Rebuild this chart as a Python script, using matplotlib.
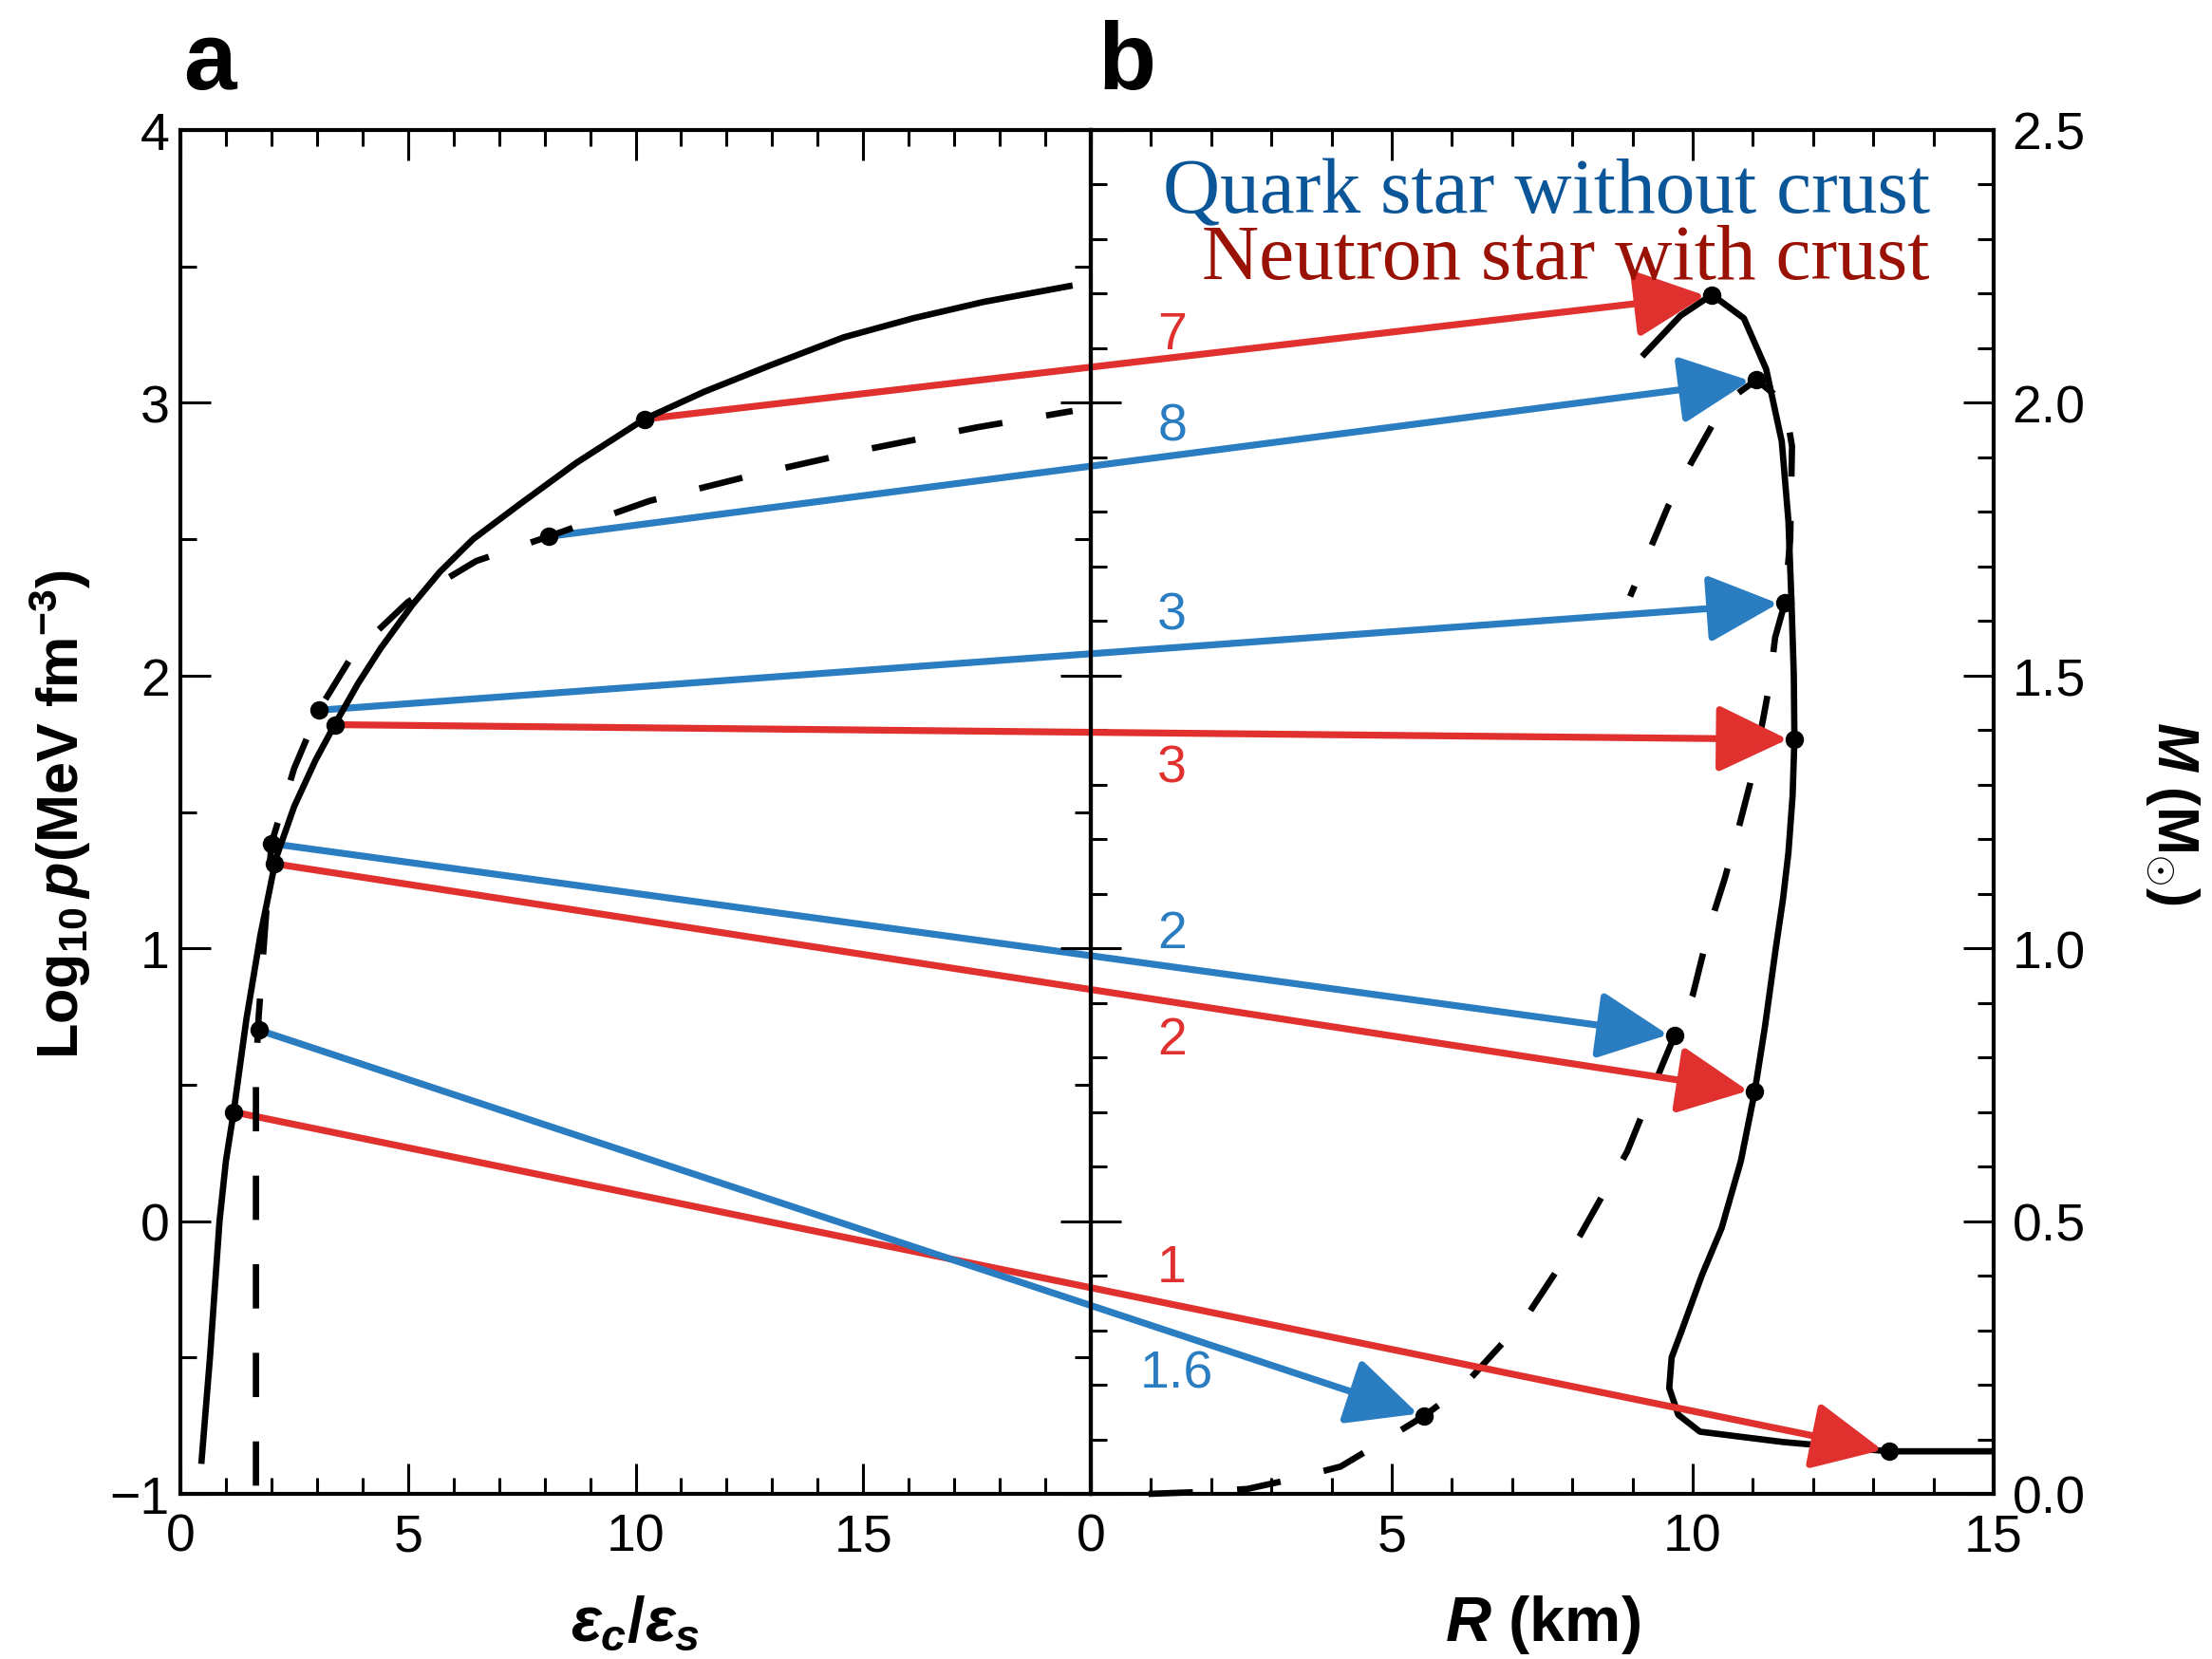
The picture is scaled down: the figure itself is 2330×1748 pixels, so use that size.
import numpy as np
import matplotlib
matplotlib.use('Agg')
import matplotlib.pyplot as plt
from matplotlib.patches import ConnectionPatch
from matplotlib.ticker import MultipleLocator
from matplotlib import font_manager

# narrow sans for ticks and labels, serif for the two captions
installed = {f.name for f in font_manager.fontManager.ttflist}
SANS = 'Liberation Sans Narrow' if 'Liberation Sans Narrow' in installed else 'Liberation Sans'
plt.rcParams['font.family'] = [SANS, 'DejaVu Sans']
plt.rcParams['mathtext.fontset'] = 'custom'
plt.rcParams['mathtext.rm'] = SANS + ':bold'
plt.rcParams['mathtext.it'] = SANS + ':italic:bold'
plt.rcParams['mathtext.bf'] = SANS + ':bold'

# ---- panel a: equations of state, log10 p vs eps_c/eps_s ----
eps_ns = np.array([0.46, 0.65, 0.86, 1.0, 1.17, 1.45, 1.76, 2.1, 2.5, 2.97, 3.39,
                   3.9, 4.4, 5.1, 5.7, 6.43, 7.47, 8.7, 10.19, 11.5, 13.0, 14.57,
                   16.1, 17.65, 19.6])
logp_ns = np.array([-0.89, -0.5, 0.0, 0.22, 0.40, 0.74, 1.05, 1.33, 1.52, 1.69, 1.82,
                    1.97, 2.10, 2.26, 2.38, 2.50, 2.63, 2.78, 2.94, 3.04, 3.14, 3.24,
                    3.31, 3.37, 3.43])
eps_qs = np.array([1.66, 1.66, 1.72, 1.85, 2.0, 2.5, 3.04, 3.8, 5.0, 6.5, 8.09,
                   10.3, 12.7, 15.1, 17.5, 19.6])
logp_qs = np.array([-0.97, 0.55, 0.75, 1.05, 1.384, 1.66, 1.873, 2.08, 2.27, 2.42,
                    2.51, 2.64, 2.74, 2.83, 2.91, 2.97])

# ---- panel b: mass-radius relations ----
r_ns = np.array([15.0, 13.26, 11.5, 10.12, 9.76, 9.61, 9.65, 9.82, 10.15, 10.48,
                 10.8, 11.03, 11.2, 11.38, 11.5, 11.59, 11.66, 11.69, 11.68, 11.64,
                 11.59, 11.48, 11.22, 10.85, 10.32, 9.8, 9.16])
m_ns = np.array([0.078, 0.078, 0.095, 0.114, 0.145, 0.194, 0.25, 0.30, 0.40, 0.487,
                 0.61, 0.737, 0.856, 1.0, 1.09, 1.175, 1.28, 1.383, 1.5, 1.64,
                 1.784, 1.929, 2.062, 2.155, 2.198, 2.16, 2.085])
r_qs = np.array([0.96, 1.7, 2.6, 3.3, 4.15, 4.8, 5.54, 6.17, 7.22, 8.13, 8.91, 9.51,
                 9.70, 10.0, 10.3, 10.53, 10.75, 10.95, 11.17, 11.27, 11.37, 11.53,
                 11.62, 11.65, 11.53, 11.06, 10.53, 10.33, 9.96, 9.59, 9.27, 8.96])
m_qs = np.array([0.0, 0.003, 0.009, 0.026, 0.05, 0.093, 0.143, 0.195, 0.322, 0.474,
                 0.627, 0.79, 0.84, 0.914, 1.047, 1.127, 1.215, 1.30, 1.42, 1.48,
                 1.57, 1.633, 1.75, 1.92, 2.0, 2.042, 2.0, 1.96, 1.887, 1.81,
                 1.726, 1.645])

# central pressure -> resulting star, neutron stars (red)
ns_labels = ['1', '2', '3', '7']
ns_eps0 = [1.17, 2.07, 3.39, 10.19]
ns_logp0 = [0.40, 1.31, 1.82, 2.94]
ns_r1 = [13.26, 11.03, 11.69, 10.32]
ns_m1 = [0.078, 0.737, 1.383, 2.198]
ns_label_m = [0.414, 0.832, 1.33, 2.125]

# quark stars (blue)
qs_labels = ['1.6', '2', '3', '8']
qs_eps0 = [1.73, 2.0, 3.04, 8.09]
qs_logp0 = [0.70, 1.384, 1.873, 2.51]
qs_r1 = [5.54, 9.70, 11.53, 11.06]
qs_m1 = [0.143, 0.84, 1.633, 2.042]
qs_label_m = [0.22, 1.026, 1.61, 1.957]

x1_ticks = [0, 5, 10, 15]
y1_ticks = [-1, 0, 1, 2, 3, 4]
y1_labels = ['\u22121', '0', '1', '2', '3', '4']
x2_ticks = [0, 5, 10, 15]
y2_ticks = [0.0, 0.5, 1.0, 1.5, 2.0, 2.5]
y2_labels = ['0.0', '0.5', '1.0', '1.5', '2.0', '2.5']

RED = '#e0312f'
BLUE = '#2a7dc1'
W, H = 2330, 1749

fig = plt.figure(figsize=(W / 100, H / 100), dpi=100)
left, mid, right = 190 / W, 1149 / W, 2100 / W
bottom, top = 1 - 1575 / H, 1 - 138 / H
ax2 = fig.add_axes([mid, bottom, right - mid, top - bottom], zorder=0)
ax1 = fig.add_axes([left, bottom, mid - left, top - bottom], zorder=1)
ax1.patch.set_visible(False)

curve_kw = dict(color='black', lw=4.8, solid_capstyle='butt', solid_joinstyle='round')
ax1.plot(eps_ns, logp_ns, **curve_kw, zorder=3)
ax1.plot(eps_qs, logp_qs, **curve_kw, dashes=(7, 7), zorder=3)
ax2.plot(r_ns, m_ns, **curve_kw, zorder=2)
ax2.plot(r_qs, m_qs, **curve_kw, dashes=(7, 7), zorder=2, clip_on=False)

ax1.set_xlim(0, 20)
ax1.set_ylim(-1, 4)
ax2.set_xlim(0, 15)
ax2.set_ylim(0, 2.5)


def link(x0, y0, x1, y1, color):
    con = ConnectionPatch(xyA=(x0, y0), coordsA=ax1.transData,
                          xyB=(x1, y1), coordsB=ax2.transData,
                          arrowstyle='-|>,head_length=4.6,head_width=2.2',
                          mutation_scale=10, color=color, lw=5.2,
                          shrinkA=0, shrinkB=5, zorder=3)
    ax2.add_artist(con)
    con.set_clip_on(False)


for x0, y0, x1, y1 in zip(ns_eps0, ns_logp0, ns_r1, ns_m1):
    link(x0, y0, x1, y1, RED)
for x0, y0, x1, y1 in zip(qs_eps0, qs_logp0, qs_r1, qs_m1):
    link(x0, y0, x1, y1, BLUE)

dot_kw = dict(ls='none', marker='o', ms=13, color='black', zorder=6, clip_on=False)
ax1.plot(ns_eps0 + qs_eps0, ns_logp0 + qs_logp0, **dot_kw)
ax2.plot(ns_r1 + qs_r1, ns_m1 + qs_m1, **dot_kw)

for lab, m in zip(ns_labels, ns_label_m):
    ax2.text(1.35, m, lab, color=RED, fontsize=40, ha='center', va='center', zorder=5)
for lab, m in zip(qs_labels, qs_label_m):
    ax2.text(1.42 if lab == '1.6' else 1.35, m, lab, color=BLUE, fontsize=40,
             ha='center', va='center', zorder=5)

ax2.text(13.94, 2.349, 'Quark star without crust', ha='right', va='baseline',
         family='Liberation Serif', fontsize=60, color='#0a5699', zorder=7)
ax2.text(13.94, 2.229, 'Neutron star with crust', ha='right', va='baseline',
         family='Liberation Serif', fontsize=60, color='#9a1205', zorder=7)

# axes frames and ticks
for ax in (ax1, ax2):
    for s in ax.spines.values():
        s.set_linewidth(3)
    ax.xaxis.set_minor_locator(MultipleLocator(1))
    ax.tick_params(which='both', direction='in', top=True, width=2.2, labelsize=40)
    ax.tick_params(which='major', length=23)
    ax.tick_params(which='minor', length=12)

ax1.set_xticks(x1_ticks)
ax1.set_yticks(y1_ticks, labels=y1_labels)
ax1.yaxis.set_minor_locator(MultipleLocator(0.5))
ax1.tick_params(which='both', right=True)
ax1.tick_params(axis='x', pad=14)
ax1.tick_params(axis='y', pad=8)

ax2.set_xticks(x2_ticks)
ax2.set_yticks(y2_ticks, labels=y2_labels)
ax2.yaxis.set_minor_locator(MultipleLocator(0.1))
ax2.tick_params(which='both', left=True, right=True, labelleft=False, labelright=True)
ax2.tick_params(axis='x', pad=14)
ax2.tick_params(axis='y', pad=14)

# axis titles and panel letters
fig.text(669 / W, 1 - 1712 / H, r'$\mathit{\varepsilon_c/\varepsilon_s}$',
         fontsize=48, ha='center', va='center')
fig.text(1625 / W, 1 - 1712 / H, r'$\mathit{R}$ (km)', fontsize=48,
         fontweight='bold', ha='center', va='center')
fig.text(63 / W, 1 - 858 / H, r'Log$_{\mathrm{10}}\,\mathit{p}$(MeV fm$^{\mathrm{-3}}$)',
         fontsize=44, fontweight='bold', rotation=90, ha='center', va='center')
fig.text(2288 / W, 1 - 857 / H, r'$\mathit{M}$ (M$_{\odot}$)', fontsize=44,
         fontweight='bold', rotation=270, ha='center', va='center')
fig.text(193 / W, 1 - 94 / H, 'a', fontsize=72, fontweight='bold', va='baseline')
fig.text(1156 / W, 1 - 94 / H, 'b', fontsize=72, fontweight='bold', va='baseline')

fig.savefig('out.png', dpi=100)
